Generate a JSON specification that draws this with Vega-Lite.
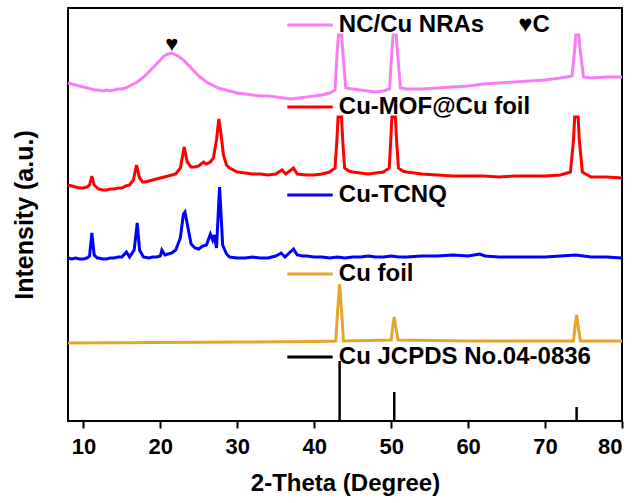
{
  "$schema": "https://vega.github.io/schema/vega-lite/v6.json",
  "width": 554,
  "height": 413,
  "autosize": "none",
  "padding": {"left": 68, "top": 8, "right": 17, "bottom": 82},
  "config": {"view": {"stroke": "black", "strokeWidth": 2}, "font": "Liberation Sans"},
  "datasets": {
    "traces": [
      {"s":"NC/Cu NRAs","t":8.0,"i":338},{"s":"NC/Cu NRAs","t":8.5,"i":337},{"s":"NC/Cu NRAs","t":9,"i":336},{"s":"NC/Cu NRAs","t":9.5,"i":335},{"s":"NC/Cu NRAs","t":10,"i":334},{"s":"NC/Cu NRAs","t":10.5,"i":333},{"s":"NC/Cu NRAs","t":11,"i":332},{"s":"NC/Cu NRAs","t":11.5,"i":331},{"s":"NC/Cu NRAs","t":12,"i":331},{"s":"NC/Cu NRAs","t":12.5,"i":330},{"s":"NC/Cu NRAs","t":13,"i":331},{"s":"NC/Cu NRAs","t":13.5,"i":330},{"s":"NC/Cu NRAs","t":14,"i":331},{"s":"NC/Cu NRAs","t":14.5,"i":332},{"s":"NC/Cu NRAs","t":15,"i":332},{"s":"NC/Cu NRAs","t":15.5,"i":333},{"s":"NC/Cu NRAs","t":16,"i":335},{"s":"NC/Cu NRAs","t":16.5,"i":337},{"s":"NC/Cu NRAs","t":17,"i":339},{"s":"NC/Cu NRAs","t":17.5,"i":342},{"s":"NC/Cu NRAs","t":18,"i":345},{"s":"NC/Cu NRAs","t":18.5,"i":349},{"s":"NC/Cu NRAs","t":19,"i":353},{"s":"NC/Cu NRAs","t":19.5,"i":357},{"s":"NC/Cu NRAs","t":20,"i":361},{"s":"NC/Cu NRAs","t":20.5,"i":365},{"s":"NC/Cu NRAs","t":21,"i":367},{"s":"NC/Cu NRAs","t":21.5,"i":368},{"s":"NC/Cu NRAs","t":22,"i":366},{"s":"NC/Cu NRAs","t":22.5,"i":364},{"s":"NC/Cu NRAs","t":23,"i":361},{"s":"NC/Cu NRAs","t":23.5,"i":357},{"s":"NC/Cu NRAs","t":24,"i":353},{"s":"NC/Cu NRAs","t":24.5,"i":349},{"s":"NC/Cu NRAs","t":25,"i":345},{"s":"NC/Cu NRAs","t":25.5,"i":342},{"s":"NC/Cu NRAs","t":26,"i":339},{"s":"NC/Cu NRAs","t":26.5,"i":337},{"s":"NC/Cu NRAs","t":27,"i":335},{"s":"NC/Cu NRAs","t":27.5,"i":333},{"s":"NC/Cu NRAs","t":28,"i":332},{"s":"NC/Cu NRAs","t":29,"i":330},{"s":"NC/Cu NRAs","t":30,"i":328},{"s":"NC/Cu NRAs","t":31,"i":327},{"s":"NC/Cu NRAs","t":32,"i":326},{"s":"NC/Cu NRAs","t":33,"i":325},{"s":"NC/Cu NRAs","t":34,"i":325},{"s":"NC/Cu NRAs","t":35,"i":324},{"s":"NC/Cu NRAs","t":36,"i":323},{"s":"NC/Cu NRAs","t":37,"i":322},{"s":"NC/Cu NRAs","t":38,"i":323},{"s":"NC/Cu NRAs","t":39,"i":324},{"s":"NC/Cu NRAs","t":40,"i":325},{"s":"NC/Cu NRAs","t":41,"i":326},{"s":"NC/Cu NRAs","t":42,"i":328},{"s":"NC/Cu NRAs","t":42.7,"i":331},{"s":"NC/Cu NRAs","t":43.0,"i":371},{"s":"NC/Cu NRAs","t":43.15,"i":386},{"s":"NC/Cu NRAs","t":43.55,"i":386},{"s":"NC/Cu NRAs","t":43.7,"i":371},{"s":"NC/Cu NRAs","t":44.1,"i":333},{"s":"NC/Cu NRAs","t":45,"i":332},{"s":"NC/Cu NRAs","t":46,"i":331},{"s":"NC/Cu NRAs","t":47,"i":330},{"s":"NC/Cu NRAs","t":48,"i":329},{"s":"NC/Cu NRAs","t":49,"i":330},{"s":"NC/Cu NRAs","t":49.8,"i":332},{"s":"NC/Cu NRAs","t":50.1,"i":371},{"s":"NC/Cu NRAs","t":50.25,"i":386},{"s":"NC/Cu NRAs","t":50.65,"i":386},{"s":"NC/Cu NRAs","t":50.8,"i":371},{"s":"NC/Cu NRAs","t":51.2,"i":333},{"s":"NC/Cu NRAs","t":52,"i":332},{"s":"NC/Cu NRAs","t":54,"i":332},{"s":"NC/Cu NRAs","t":56,"i":333},{"s":"NC/Cu NRAs","t":58,"i":334},{"s":"NC/Cu NRAs","t":60,"i":335},{"s":"NC/Cu NRAs","t":62,"i":337},{"s":"NC/Cu NRAs","t":64,"i":338},{"s":"NC/Cu NRAs","t":66,"i":339},{"s":"NC/Cu NRAs","t":68,"i":340},{"s":"NC/Cu NRAs","t":70,"i":341},{"s":"NC/Cu NRAs","t":72,"i":343},{"s":"NC/Cu NRAs","t":73.5,"i":345},{"s":"NC/Cu NRAs","t":73.85,"i":371},{"s":"NC/Cu NRAs","t":74.0,"i":386},{"s":"NC/Cu NRAs","t":74.4,"i":386},{"s":"NC/Cu NRAs","t":74.55,"i":371},{"s":"NC/Cu NRAs","t":75.0,"i":344},{"s":"NC/Cu NRAs","t":76,"i":343},{"s":"NC/Cu NRAs","t":78,"i":344},{"s":"NC/Cu NRAs","t":80,"i":344},

      {"s":"Cu-MOF@Cu foil","t":8.0,"i":236},{"s":"Cu-MOF@Cu foil","t":8.5,"i":235},{"s":"Cu-MOF@Cu foil","t":9,"i":234},{"s":"Cu-MOF@Cu foil","t":9.5,"i":233},{"s":"Cu-MOF@Cu foil","t":10,"i":233},{"s":"Cu-MOF@Cu foil","t":10.5,"i":234},{"s":"Cu-MOF@Cu foil","t":10.8,"i":236},{"s":"Cu-MOF@Cu foil","t":11.1,"i":245},{"s":"Cu-MOF@Cu foil","t":11.4,"i":236},{"s":"Cu-MOF@Cu foil","t":11.8,"i":233},{"s":"Cu-MOF@Cu foil","t":12,"i":232},{"s":"Cu-MOF@Cu foil","t":12.5,"i":231},{"s":"Cu-MOF@Cu foil","t":13,"i":231},{"s":"Cu-MOF@Cu foil","t":13.5,"i":232},{"s":"Cu-MOF@Cu foil","t":14,"i":232},{"s":"Cu-MOF@Cu foil","t":14.5,"i":233},{"s":"Cu-MOF@Cu foil","t":15,"i":233},{"s":"Cu-MOF@Cu foil","t":15.5,"i":235},{"s":"Cu-MOF@Cu foil","t":16,"i":236},{"s":"Cu-MOF@Cu foil","t":16.5,"i":241},{"s":"Cu-MOF@Cu foil","t":16.9,"i":256},{"s":"Cu-MOF@Cu foil","t":17.3,"i":243},{"s":"Cu-MOF@Cu foil","t":17.7,"i":239},{"s":"Cu-MOF@Cu foil","t":18,"i":239},{"s":"Cu-MOF@Cu foil","t":18.5,"i":240},{"s":"Cu-MOF@Cu foil","t":19,"i":241},{"s":"Cu-MOF@Cu foil","t":19.5,"i":242},{"s":"Cu-MOF@Cu foil","t":20,"i":243},{"s":"Cu-MOF@Cu foil","t":20.5,"i":244},{"s":"Cu-MOF@Cu foil","t":21,"i":245},{"s":"Cu-MOF@Cu foil","t":21.5,"i":246},{"s":"Cu-MOF@Cu foil","t":22,"i":247},{"s":"Cu-MOF@Cu foil","t":22.6,"i":253},{"s":"Cu-MOF@Cu foil","t":23.1,"i":274},{"s":"Cu-MOF@Cu foil","t":23.5,"i":259},{"s":"Cu-MOF@Cu foil","t":24,"i":254},{"s":"Cu-MOF@Cu foil","t":24.5,"i":254},{"s":"Cu-MOF@Cu foil","t":25,"i":255},{"s":"Cu-MOF@Cu foil","t":25.6,"i":259},{"s":"Cu-MOF@Cu foil","t":26,"i":257},{"s":"Cu-MOF@Cu foil","t":26.5,"i":259},{"s":"Cu-MOF@Cu foil","t":26.9,"i":263},{"s":"Cu-MOF@Cu foil","t":27.3,"i":281},{"s":"Cu-MOF@Cu foil","t":27.6,"i":302},{"s":"Cu-MOF@Cu foil","t":27.9,"i":286},{"s":"Cu-MOF@Cu foil","t":28.2,"i":266},{"s":"Cu-MOF@Cu foil","t":28.6,"i":256},{"s":"Cu-MOF@Cu foil","t":29,"i":253},{"s":"Cu-MOF@Cu foil","t":30,"i":249},{"s":"Cu-MOF@Cu foil","t":31,"i":248},{"s":"Cu-MOF@Cu foil","t":32,"i":247},{"s":"Cu-MOF@Cu foil","t":33,"i":247},{"s":"Cu-MOF@Cu foil","t":34,"i":246},{"s":"Cu-MOF@Cu foil","t":35,"i":247},{"s":"Cu-MOF@Cu foil","t":35.8,"i":251},{"s":"Cu-MOF@Cu foil","t":36.3,"i":247},{"s":"Cu-MOF@Cu foil","t":37.3,"i":253},{"s":"Cu-MOF@Cu foil","t":37.8,"i":247},{"s":"Cu-MOF@Cu foil","t":39,"i":246},{"s":"Cu-MOF@Cu foil","t":40,"i":246},{"s":"Cu-MOF@Cu foil","t":41,"i":247},{"s":"Cu-MOF@Cu foil","t":42,"i":249},{"s":"Cu-MOF@Cu foil","t":42.7,"i":253},{"s":"Cu-MOF@Cu foil","t":42.95,"i":281},{"s":"Cu-MOF@Cu foil","t":43.1,"i":304},{"s":"Cu-MOF@Cu foil","t":43.55,"i":304},{"s":"Cu-MOF@Cu foil","t":43.7,"i":281},{"s":"Cu-MOF@Cu foil","t":43.95,"i":253},{"s":"Cu-MOF@Cu foil","t":44.5,"i":250},{"s":"Cu-MOF@Cu foil","t":45,"i":249},{"s":"Cu-MOF@Cu foil","t":46,"i":248},{"s":"Cu-MOF@Cu foil","t":47,"i":247},{"s":"Cu-MOF@Cu foil","t":48,"i":248},{"s":"Cu-MOF@Cu foil","t":49,"i":249},{"s":"Cu-MOF@Cu foil","t":49.75,"i":253},{"s":"Cu-MOF@Cu foil","t":49.95,"i":281},{"s":"Cu-MOF@Cu foil","t":50.1,"i":304},{"s":"Cu-MOF@Cu foil","t":50.55,"i":304},{"s":"Cu-MOF@Cu foil","t":50.7,"i":281},{"s":"Cu-MOF@Cu foil","t":50.95,"i":253},{"s":"Cu-MOF@Cu foil","t":51.5,"i":250},{"s":"Cu-MOF@Cu foil","t":52,"i":249},{"s":"Cu-MOF@Cu foil","t":54,"i":247},{"s":"Cu-MOF@Cu foil","t":56,"i":246},{"s":"Cu-MOF@Cu foil","t":58,"i":245},{"s":"Cu-MOF@Cu foil","t":60,"i":245},{"s":"Cu-MOF@Cu foil","t":62,"i":245},{"s":"Cu-MOF@Cu foil","t":64,"i":244},{"s":"Cu-MOF@Cu foil","t":66,"i":245},{"s":"Cu-MOF@Cu foil","t":68,"i":245},{"s":"Cu-MOF@Cu foil","t":70,"i":245},{"s":"Cu-MOF@Cu foil","t":72,"i":246},{"s":"Cu-MOF@Cu foil","t":73.3,"i":249},{"s":"Cu-MOF@Cu foil","t":73.7,"i":281},{"s":"Cu-MOF@Cu foil","t":73.85,"i":304},{"s":"Cu-MOF@Cu foil","t":74.3,"i":304},{"s":"Cu-MOF@Cu foil","t":74.45,"i":281},{"s":"Cu-MOF@Cu foil","t":74.85,"i":249},{"s":"Cu-MOF@Cu foil","t":75.5,"i":246},{"s":"Cu-MOF@Cu foil","t":76,"i":244},{"s":"Cu-MOF@Cu foil","t":78,"i":244},{"s":"Cu-MOF@Cu foil","t":80,"i":243},

      {"s":"Cu-TCNQ","t":8,"i":163},{"s":"Cu-TCNQ","t":8.5,"i":162},{"s":"Cu-TCNQ","t":9,"i":163},{"s":"Cu-TCNQ","t":9.5,"i":162},{"s":"Cu-TCNQ","t":10,"i":162},{"s":"Cu-TCNQ","t":10.5,"i":163},{"s":"Cu-TCNQ","t":10.8,"i":165},{"s":"Cu-TCNQ","t":11.1,"i":188},{"s":"Cu-TCNQ","t":11.4,"i":166},{"s":"Cu-TCNQ","t":11.8,"i":163},{"s":"Cu-TCNQ","t":12,"i":163},{"s":"Cu-TCNQ","t":12.5,"i":162},{"s":"Cu-TCNQ","t":13,"i":162},{"s":"Cu-TCNQ","t":13.5,"i":163},{"s":"Cu-TCNQ","t":14,"i":163},{"s":"Cu-TCNQ","t":14.5,"i":164},{"s":"Cu-TCNQ","t":15,"i":164},{"s":"Cu-TCNQ","t":15.6,"i":169},{"s":"Cu-TCNQ","t":16,"i":164},{"s":"Cu-TCNQ","t":16.6,"i":171},{"s":"Cu-TCNQ","t":17.0,"i":198},{"s":"Cu-TCNQ","t":17.3,"i":171},{"s":"Cu-TCNQ","t":17.8,"i":164},{"s":"Cu-TCNQ","t":18.5,"i":163},{"s":"Cu-TCNQ","t":19,"i":164},{"s":"Cu-TCNQ","t":19.5,"i":164},{"s":"Cu-TCNQ","t":20,"i":165},{"s":"Cu-TCNQ","t":20.2,"i":171},{"s":"Cu-TCNQ","t":20.6,"i":166},{"s":"Cu-TCNQ","t":21,"i":167},{"s":"Cu-TCNQ","t":21.5,"i":168},{"s":"Cu-TCNQ","t":22,"i":171},{"s":"Cu-TCNQ","t":22.6,"i":183},{"s":"Cu-TCNQ","t":23.0,"i":207},{"s":"Cu-TCNQ","t":23.2,"i":209},{"s":"Cu-TCNQ","t":23.6,"i":193},{"s":"Cu-TCNQ","t":24.0,"i":177},{"s":"Cu-TCNQ","t":24.5,"i":173},{"s":"Cu-TCNQ","t":25,"i":172},{"s":"Cu-TCNQ","t":25.5,"i":175},{"s":"Cu-TCNQ","t":26,"i":176},{"s":"Cu-TCNQ","t":26.5,"i":187},{"s":"Cu-TCNQ","t":26.8,"i":181},{"s":"Cu-TCNQ","t":27.0,"i":186},{"s":"Cu-TCNQ","t":27.3,"i":173},{"s":"Cu-TCNQ","t":27.7,"i":234},{"s":"Cu-TCNQ","t":28.1,"i":176},{"s":"Cu-TCNQ","t":28.6,"i":167},{"s":"Cu-TCNQ","t":29,"i":164},{"s":"Cu-TCNQ","t":30,"i":163},{"s":"Cu-TCNQ","t":31,"i":163},{"s":"Cu-TCNQ","t":32,"i":164},{"s":"Cu-TCNQ","t":33,"i":163},{"s":"Cu-TCNQ","t":34,"i":163},{"s":"Cu-TCNQ","t":35,"i":165},{"s":"Cu-TCNQ","t":35.7,"i":168},{"s":"Cu-TCNQ","t":36.2,"i":164},{"s":"Cu-TCNQ","t":37.3,"i":172},{"s":"Cu-TCNQ","t":37.8,"i":166},{"s":"Cu-TCNQ","t":38.5,"i":165},{"s":"Cu-TCNQ","t":39,"i":165},{"s":"Cu-TCNQ","t":40,"i":164},{"s":"Cu-TCNQ","t":41,"i":164},{"s":"Cu-TCNQ","t":42,"i":163},{"s":"Cu-TCNQ","t":43,"i":164},{"s":"Cu-TCNQ","t":44,"i":163},{"s":"Cu-TCNQ","t":45,"i":164},{"s":"Cu-TCNQ","t":46,"i":164},{"s":"Cu-TCNQ","t":47,"i":165},{"s":"Cu-TCNQ","t":48,"i":164},{"s":"Cu-TCNQ","t":49,"i":164},{"s":"Cu-TCNQ","t":50,"i":165},{"s":"Cu-TCNQ","t":51,"i":164},{"s":"Cu-TCNQ","t":52,"i":164},{"s":"Cu-TCNQ","t":54,"i":165},{"s":"Cu-TCNQ","t":56,"i":165},{"s":"Cu-TCNQ","t":58,"i":166},{"s":"Cu-TCNQ","t":60,"i":165},{"s":"Cu-TCNQ","t":61.5,"i":167},{"s":"Cu-TCNQ","t":62.2,"i":165},{"s":"Cu-TCNQ","t":64,"i":164},{"s":"Cu-TCNQ","t":66,"i":164},{"s":"Cu-TCNQ","t":68,"i":164},{"s":"Cu-TCNQ","t":70,"i":164},{"s":"Cu-TCNQ","t":72,"i":165},{"s":"Cu-TCNQ","t":74,"i":166},{"s":"Cu-TCNQ","t":76,"i":164},{"s":"Cu-TCNQ","t":78,"i":164},{"s":"Cu-TCNQ","t":80,"i":163},

      {"s":"Cu foil","t":8,"i":78},{"s":"Cu foil","t":20,"i":78.5},{"s":"Cu foil","t":30,"i":79},{"s":"Cu foil","t":40,"i":79.5},{"s":"Cu foil","t":42.8,"i":80},{"s":"Cu foil","t":43.05,"i":111},{"s":"Cu foil","t":43.3,"i":137},{"s":"Cu foil","t":43.55,"i":111},{"s":"Cu foil","t":43.8,"i":80},{"s":"Cu foil","t":50.0,"i":81},{"s":"Cu foil","t":50.2,"i":94},{"s":"Cu foil","t":50.4,"i":104},{"s":"Cu foil","t":50.6,"i":94},{"s":"Cu foil","t":50.9,"i":81},{"s":"Cu foil","t":60,"i":80},{"s":"Cu foil","t":73.7,"i":80},{"s":"Cu foil","t":73.9,"i":95},{"s":"Cu foil","t":74.1,"i":106},{"s":"Cu foil","t":74.3,"i":95},{"s":"Cu foil","t":74.6,"i":80},{"s":"Cu foil","t":80,"i":80}
    ],
    "sticks": [
      {"s":"Cu JCPDS No.04-0836","t":43.3,"b":0,"i":60},
      {"s":"Cu JCPDS No.04-0836","t":50.4,"b":0,"i":29},
      {"s":"Cu JCPDS No.04-0836","t":74.1,"b":0,"i":14}
    ],
    "keys": [
      {"s":"NC/Cu NRAs","t":36.5,"t2":42.4,"i":396},
      {"s":"Cu-MOF@Cu foil","t":36.5,"t2":42.4,"i":314},
      {"s":"Cu-TCNQ","t":36.5,"t2":42.4,"i":226},
      {"s":"Cu foil","t":36.5,"t2":42.4,"i":147},
      {"s":"Cu JCPDS No.04-0836","t":36.5,"t2":42.4,"i":64}
    ],
    "labels": [
      {"label":"NC/Cu NRAs","t":43.2,"i":396},
      {"label":"♥C","t":66.5,"i":396},
      {"label":"Cu-MOF@Cu foil","t":43.2,"i":314},
      {"label":"Cu-TCNQ","t":43.2,"i":226},
      {"label":"Cu foil","t":43.2,"i":147},
      {"label":"Cu JCPDS No.04-0836","t":43.2,"i":64}
    ],
    "marker": [
      {"label":"♥","t":21.5,"i":377}
    ]
  },
  "layer": [
    {
      "data": {"name": "traces"},
      "mark": {"type": "line", "strokeWidth": 3, "interpolate": "linear"},
      "encoding": {
        "x": {"field": "t", "type": "quantitative",
          "scale": {"domain": [8, 80], "nice": false, "zero": false},
          "axis": {"title": "2-Theta (Degree)", "values": [10,15,20,25,30,35,40,45,50,55,60,65,70,75,80],
            "labelExpr": "datum.value % 10 === 0 ? datum.label : ''",
            "ticks": true, "tickOpacity": 1, "tickSize": 7,
            "tickColor": "#000000", "tickWidth": 2, "domain": false, "grid": false,
            "labelFont": "Liberation Sans", "labelFontSize": 22, "labelFontWeight": "bold", "labelColor": "black", "labelPadding": 8,
            "titleFont": "Liberation Sans", "titleFontSize": 24, "titleFontWeight": "bold", "titleColor": "black", "titlePadding": 14}},
        "y": {"field": "i", "type": "quantitative",
          "scale": {"domain": [0, 413], "nice": false, "zero": false},
          "axis": {"title": "Intensity (a.u.)", "labels": false, "ticks": false, "domain": false, "grid": false,
            "titleFont": "Liberation Sans", "titleFontSize": 25, "titleFontWeight": "bold", "titleColor": "black", "titlePadding": 31}},
        "color": {"field": "s", "type": "nominal", "legend": null,
          "scale": {"domain": ["NC/Cu NRAs","Cu-MOF@Cu foil","Cu-TCNQ","Cu foil","Cu JCPDS No.04-0836"],
            "range": ["#F67EF0","#FF0000","#0000FF","#E5A528","#000000"]}}
      }
    },
    {
      "data": {"name": "sticks"},
      "mark": {"type": "rule", "strokeWidth": 2.5},
      "encoding": {
        "x": {"field": "t", "type": "quantitative"},
        "y": {"field": "b", "type": "quantitative"},
        "y2": {"field": "i"},
        "color": {"field": "s", "type": "nominal", "legend": null}
      }
    },
    {
      "data": {"name": "keys"},
      "mark": {"type": "rule", "strokeWidth": 3},
      "encoding": {
        "x": {"field": "t", "type": "quantitative"},
        "x2": {"field": "t2"},
        "y": {"field": "i", "type": "quantitative"},
        "color": {"field": "s", "type": "nominal", "legend": null}
      }
    },
    {
      "data": {"name": "labels"},
      "mark": {"type": "text", "align": "left", "baseline": "middle", "font": "Liberation Sans", "fontSize": 24, "fontWeight": "bold", "color": "black"},
      "encoding": {
        "x": {"field": "t", "type": "quantitative"},
        "y": {"field": "i", "type": "quantitative"},
        "text": {"field": "label"}
      }
    },
    {
      "data": {"name": "marker"},
      "mark": {"type": "text", "align": "center", "baseline": "middle", "fontSize": 22, "color": "black"},
      "encoding": {
        "x": {"field": "t", "type": "quantitative"},
        "y": {"field": "i", "type": "quantitative"},
        "text": {"field": "label"}
      }
    }
  ]
}
